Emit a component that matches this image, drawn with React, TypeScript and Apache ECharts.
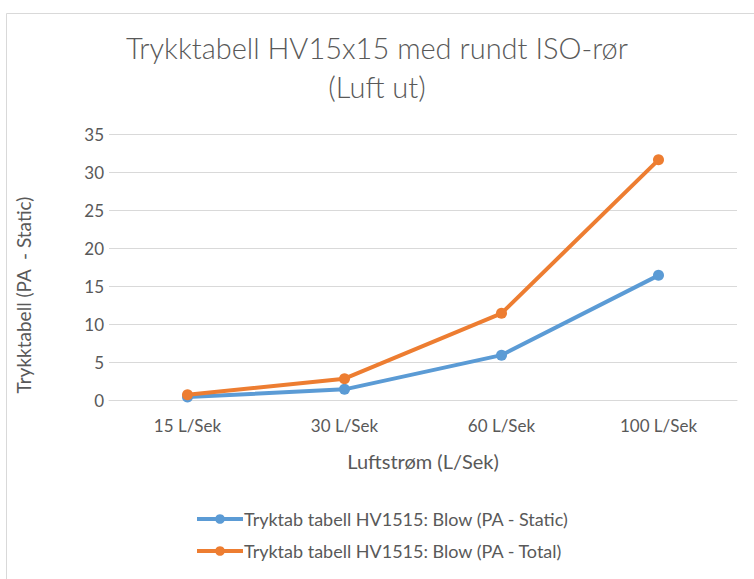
import React, { useEffect, useRef } from "react";
import * as echarts from "echarts";

const categories = ["15 L/Sek", "30 L/Sek", "60 L/Sek", "100 L/Sek"];
const staticValues = [0.4, 1.4, 5.9, 16.4];
const totalValues = [0.7, 2.8, 11.4, 31.6];
const seriesNames = [
  "Tryktab tabell HV1515: Blow (PA - Static)",
  "Tryktab tabell HV1515: Blow (PA - Total)",
];
const titleLines = ["Trykktabell HV15x15 med rundt ISO-rør", "(Luft ut)"];
const FONT = "Lato, 'Open Sans', sans-serif";
const TXT = "#595959";

export default function App() {
  const ref = useRef<HTMLDivElement>(null);
  useEffect(() => {
    if (!ref.current) return;
    const chart = echarts.init(ref.current, undefined, { renderer: "svg" });
    chart.setOption({
      animation: false,
      backgroundColor: "#ffffff",
      textStyle: { fontFamily: FONT, color: TXT },
      title: {
        text: titleLines.join("\n"),
        left: "center",
        top: 23,
        textStyle: { fontFamily: FONT, fontSize: 29, fontWeight: 300, color: TXT, lineHeight: 39 },
      },
      graphic: [
        {
          type: "rect",
          shape: { x: 6.5, y: 13.5, width: 760, height: 580 },
          style: { fill: "none", stroke: "#d9d9d9", lineWidth: 1 },
          silent: true,
        },
      ],
      grid: { left: 109, right: 17, top: 134, bottom: 179 },
      legend: {
        orient: "vertical",
        left: 190,
        top: 505,
        itemGap: 14,
        itemWidth: 46,
        itemHeight: 12,
        lineStyle: { width: 4 },
        textStyle: { fontFamily: FONT, fontSize: 18, color: TXT, padding: [0, 0, 0, -4] },
        data: seriesNames,
      },
      xAxis: {
        type: "category",
        data: categories,
        boundaryGap: true,
        name: "Luftstrøm (L/Sek)",
        nameLocation: "middle",
        nameGap: 51,
        nameTextStyle: { fontFamily: FONT, fontSize: 20, color: TXT },
        axisLine: { lineStyle: { color: "#d9d9d9", width: 1 } },
        axisTick: { show: false },
        axisLabel: { color: TXT, fontSize: 17, fontFamily: FONT, margin: 17 },
      },
      yAxis: {
        type: "value",
        min: 0,
        max: 35,
        interval: 5,
        name: "Trykktabell (PA  - Static)",
        nameLocation: "middle",
        nameGap: 76,
        nameTextStyle: { fontFamily: FONT, fontSize: 19, color: TXT, padding: [0, 56, 0, 0] },
        axisLine: { show: false },
        axisTick: { show: false },
        axisLabel: { color: TXT, fontSize: 17, fontFamily: FONT, margin: 5 },
        splitLine: { lineStyle: { color: "#d9d9d9", width: 1 } },
      },
      series: [
        {
          name: seriesNames[0],
          type: "line",
          data: staticValues,
          symbol: "circle",
          symbolSize: 11,
          lineStyle: { width: 4, color: "#5b9bd5" },
          itemStyle: { color: "#5b9bd5" },
        },
        {
          name: seriesNames[1],
          type: "line",
          data: totalValues,
          symbol: "circle",
          symbolSize: 11,
          lineStyle: { width: 4, color: "#ed7d31" },
          itemStyle: { color: "#ed7d31" },
        },
      ],
    });
    return () => chart.dispose();
  }, []);
  return (
    <div
      ref={ref}
      style={{ position: "fixed", left: 0, top: 0, width: 754, height: 579 }}
    />
  );
}
